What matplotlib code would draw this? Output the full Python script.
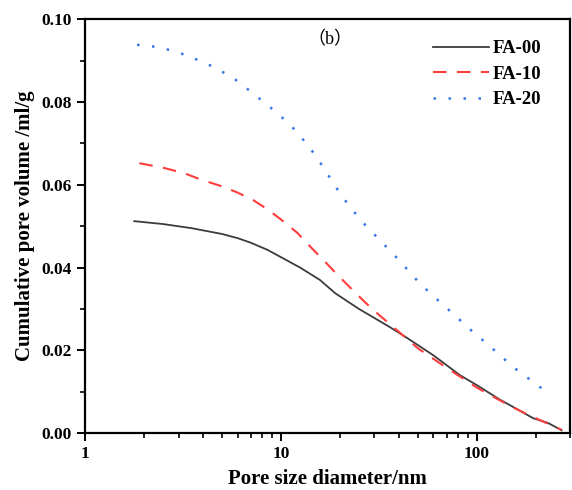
import numpy as np
import matplotlib.pyplot as plt
from matplotlib.ticker import MultipleLocator, LogLocator, NullFormatter, FixedLocator, FixedFormatter

# pore size (nm) and cumulative pore volume (ml/g)
d_fa00 = [1.78, 2.5, 3.5, 5.0, 6.0, 7.0, 8.5, 10.0, 12.5, 15.8, 18.9, 25.0, 36.0, 44.0, 60.0, 82.0, 100.0, 130.0, 172.0, 194.0, 230.0, 271.0]
v_fa00 = [0.0512, 0.0505, 0.0495, 0.0481, 0.0471, 0.0460, 0.0443, 0.0425, 0.0400, 0.0370, 0.0338, 0.0300, 0.0256, 0.0230, 0.0188, 0.0140, 0.0116, 0.0082, 0.0050, 0.0036, 0.0025, 0.0007]

d_fa10 = [1.89, 2.5, 3.2, 3.87, 5.0, 6.0, 7.2, 8.5, 10.0, 12.1, 14.6, 17.1, 20.0, 23.3, 27.0, 30.9, 35.0, 39.0, 50.0, 70.0, 100.0, 150.0, 200.0, 271.0]
v_fa10 = [0.0652, 0.0641, 0.0628, 0.0613, 0.0596, 0.0581, 0.0563, 0.0541, 0.0516, 0.0484, 0.0443, 0.0410, 0.0376, 0.0345, 0.0315, 0.0290, 0.0268, 0.0249, 0.0205, 0.0158, 0.0110, 0.0064, 0.0036, 0.0008]

d_fa20 = [1.84, 2.3, 2.9, 3.56, 4.5, 5.7, 7.0, 8.8, 10.0, 11.8, 14.0, 16.4, 19.0, 22.5, 27.0, 32.0, 40.0, 51.0, 62.0, 75.0, 90.0, 112.0, 130.0, 153.0, 180.0, 210.0, 240.0]
v_fa20 = [0.0938, 0.0933, 0.0922, 0.0906, 0.0885, 0.0858, 0.0825, 0.0787, 0.0765, 0.0732, 0.0690, 0.0643, 0.0595, 0.0546, 0.0502, 0.0466, 0.0418, 0.0362, 0.0325, 0.0290, 0.0255, 0.0217, 0.0190, 0.0160, 0.0135, 0.0111, 0.0099]

series_names = ['FA-00', 'FA-10', 'FA-20']

plt.rcParams['font.family'] = ['Liberation Serif', 'Noto Sans CJK SC']

fig = plt.figure(figsize=(5.72, 4.90), dpi=100)
ax = fig.add_axes([0.149, 0.116, 0.848, 0.845])

ax.plot(d_fa00, v_fa00, color='#3c3c3c', lw=1.3, ls='-', label=series_names[0])
ax.plot(d_fa10, v_fa10, color='#ff3d3d', lw=1.5, ls=(0, (6.5, 5)), label=series_names[1])
ax.plot(d_fa20, v_fa20, color='#3575e5', lw=1.8, ls=(0, (1, 5)), label=series_names[2])

ax.set_xscale('log')
ax.set_xlim(1, 300)
ax.set_ylim(0, 0.10)

ax.xaxis.set_major_locator(FixedLocator([1, 10, 100]))
ax.xaxis.set_major_formatter(FixedFormatter(['1', '10', '100']))
ax.xaxis.set_minor_locator(LogLocator(base=10, subs=np.arange(2, 10)))
ax.xaxis.set_minor_formatter(NullFormatter())
ax.yaxis.set_major_locator(MultipleLocator(0.02))
ax.yaxis.set_minor_locator(MultipleLocator(0.01))
ax.yaxis.set_major_formatter(plt.FuncFormatter(lambda v, p: f'{v:.2f}'))

ax.tick_params(which='major', direction='out', length=6, width=1.4, labelsize=12.5)
ax.tick_params(which='minor', direction='out', length=3.5, width=1.2)
for lab in ax.get_xticklabels() + ax.get_yticklabels():
    lab.set_fontweight('bold')
for s in ax.spines.values():
    s.set_linewidth(1.6)

ax.set_xlabel('Pore size diameter/nm', fontsize=15, fontweight='bold', labelpad=5)
ax.set_ylabel('Cumulative pore volume /ml/g', fontsize=15, fontweight='bold', labelpad=5)

ax.text(0.505, 0.97, '（b）', transform=ax.transAxes, ha='center', va='top', fontsize=13)

leg = ax.legend(loc='upper right', bbox_to_anchor=(0.975, 0.99), frameon=False,
                prop={'weight': 'bold', 'size': 13.5}, handlelength=3.0,
                handletextpad=0.2, labelspacing=0.45)

fig.savefig('out.png', dpi=100)
